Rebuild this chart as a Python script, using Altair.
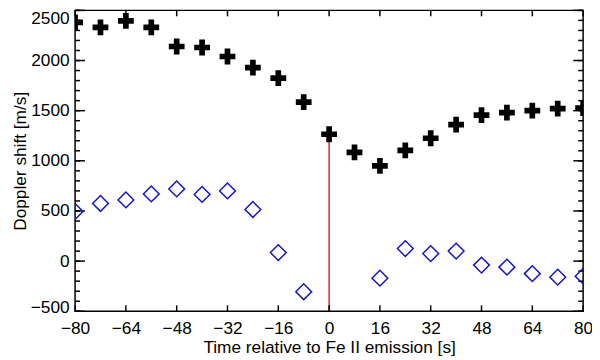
import altair as alt
import pandas as pd

# ---- data ----
t_cross = [-80, -72, -64, -56, -48, -40, -32, -24, -16, -8, 0, 8, 16, 24, 32, 40, 48, 56, 64, 72, 80]
v_cross = [2380, 2330, 2395, 2330, 2140, 2130, 2040, 1930, 1825, 1585, 1265, 1085, 950, 1105, 1225, 1360, 1455, 1480, 1500, 1520, 1525]

t_diam = [-80, -72, -64, -56, -48, -40, -32, -24, -16, -8, 16, 24, 32, 40, 48, 56, 64, 72, 80]
v_diam = [495, 575, 610, 670, 720, 665, 700, 515, 85, -305, -170, 125, 75, 100, -40, -60, -125, -160, -150]

event_t = [0]
event_bottom = [-500]
event_top = [1265]

x_ticks = [-80, -64, -48, -32, -16, 0, 16, 32, 48, 64, 80]
y_major = [-500, 0, 500, 1000, 1500, 2000, 2500]
y_minor = list(range(-500, 2501, 100))

x_domain = [-80, 80]
y_domain = [-500, 2500]

X_TITLE = "Time relative to Fe II emission [s]"
Y_TITLE = "Doppler shift [m/s]"

FONT = "Liberation Sans"
FS = 17.5
W, H = 515, 305
MAJ, MIN, XT = 10, 5, 6

crosses = pd.DataFrame({"t": t_cross, "v": v_cross})
diamonds = pd.DataFrame({"t": t_diam, "v": v_diam})
event = pd.DataFrame({"t": event_t, "v": event_bottom, "v2": event_top})
xt = pd.DataFrame({"t": x_ticks})
ymaj = pd.DataFrame({"v": y_major})
ymin = pd.DataFrame({"v": y_minor})

xs = alt.Scale(domain=x_domain, nice=False, zero=False)
ys = alt.Scale(domain=y_domain, nice=False, zero=False)

minus = "replace(datum.label, '-', '\u2212')"

x_axis = alt.Axis(values=x_ticks, format="d", labelExpr=minus, domain=False, grid=False,
                  ticks=False, labelPadding=9, labelFlush=False, labelFont=FONT,
                  labelFontSize=FS, labelColor="black", labelOverlap=False, titleFont=FONT,
                  titleFontSize=FS, titleFontWeight="normal", titleColor="black",
                  titlePadding=1)
y_axis = alt.Axis(values=y_major, format="d", labelExpr=minus, domain=False, grid=False,
                  ticks=False, labelPadding=6, labelFlush=False,
                  labelOffset={"condition": [
                      {"test": f"datum.value == {y_domain[1]}", "value": 8},
                      {"test": f"datum.value == {y_domain[0]}", "value": -4}],
                      "value": 0},
                  labelFont=FONT, labelFontSize=FS, labelColor="black", labelOverlap=False,
                  titleFont=FONT, titleFontSize=FS, titleFontWeight="normal",
                  titleColor="black", titlePadding=1)


def X():
    return alt.X("t:Q", scale=xs, title=X_TITLE, axis=x_axis)


def Y():
    return alt.Y("v:Q", scale=ys, title=Y_TITLE, axis=y_axis)


tick_style = dict(color="black", strokeWidth=1.5)


def yticks(df, x0, x1):
    return alt.Chart(df).mark_rule(**tick_style).encode(
        y=Y(), x=alt.value(x0), x2=alt.value(x1))


def xticks(y0, y1):
    return alt.Chart(xt).mark_rule(**tick_style).encode(
        x=X(), y=alt.value(y0), y2=alt.value(y1))


rule = alt.Chart(event).mark_rule(color="#e00000", strokeWidth=1.3, clip=True).encode(
    x=X(), y=Y(), y2="v2:Q",
)

cross_path = "M-1,-0.36H-0.36V-1H0.36V-0.36H1V0.36H0.36V1H-0.36V0.36H-1Z"

diam_layer = alt.Chart(diamonds).mark_point(
    shape="diamond", filled=False, size=256, color="#1414c8", strokeWidth=1.5, opacity=1, clip=True
).encode(x=X(), y=Y())

cross_layer = alt.Chart(crosses).mark_point(
    shape=cross_path, filled=True, size=256, color="black", opacity=1, clip=True
).encode(x=X(), y=Y())

chart = alt.layer(
    rule,
    yticks(ymaj, 0, MAJ), yticks(ymaj, W - MAJ, W),
    yticks(ymin, 0, MIN), yticks(ymin, W - MIN, W),
    xticks(H, H - XT), xticks(0, XT),
    diam_layer,
    cross_layer,
).properties(
    width=W,
    height=H,
    autosize=alt.AutoSizeParams(type="none"),
    padding={"left": 68, "top": 0, "right": 9, "bottom": 47},
    background="white",
).configure_view(stroke="black", strokeWidth=1.5)

chart.save("out.html", embed_options={"renderer": "svg", "actions": False})
